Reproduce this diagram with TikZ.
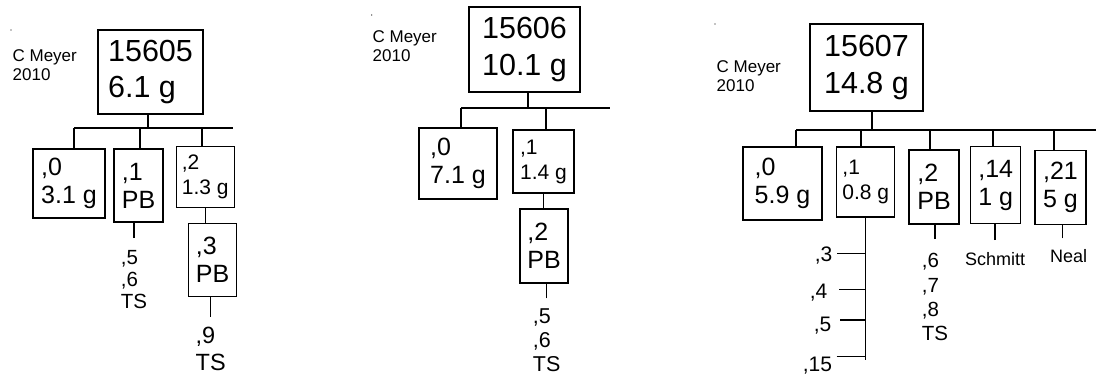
\documentclass[tikz,border=0pt]{standalone}
\usepackage{fontspec}
\setmainfont{Liberation Sans}
\usetikzlibrary{positioning}
\tikzset{
    rootbox/.style ={
        draw,
        align=left,
        inner sep=0pt,
        font=\fontsize{30.5}{36.5}\selectfont
    },
    kidbox/.style ={
        draw,
        align=left,
        inner sep=0pt,
        font=\fontsize{25}{28}\selectfont
    },
    kidsmall/.style ={
        draw,
        align=left,
        inner sep=0pt,
        font=\fontsize{21}{25}\selectfont
    },
    boxsize/.style 2 args ={
        minimum width=#1pt,
        minimum height=#2pt
    },
    meyer/.style ={
        anchor=north west,
        align=left,
        inner sep=0pt,
        font=\fontsize{17}{19}\selectfont
    },
    leaf/.style 2 args ={
        align=left,
        inner sep=0pt,
        font=\fontsize{#1}{#2}\selectfont
    }
}

\begin{document}
\begin{tikzpicture}[x=1pt, y=-1pt, line width=1.3pt]
    \useasboundingbox (0,0) rectangle (1096,375);

    % 15605
    \fill (11,30) circle (0.7);
    \node[meyer] (m1) at (12,49) {C Meyer\\2010};
    \node[rootbox, boxsize={105}{84}] (r1) at (150.5,72) {15605\\6.1 g};
    \node[kidbox, boxsize={72}{69}] (a0) at (69,183.5) {,0\\3.1 g};
    \node[kidbox, boxsize={49}{73}] (a1) at (138.5,185.5) {,1\\PB};
    \node[kidsmall, boxsize={58}{61}] (a2) at (205.2,177.2) {,2\\1.3 g};
    \node[kidbox, boxsize={48}{73}] (a3) at (212.5,260) {,3\\PB};
    \coordinate (j10) at (148,128);
    \coordinate (j11) at (74,128);
    \coordinate (j12) at (140,128);
    \coordinate (j13) at (202,128);
    \coordinate (e1) at (233,128);
    \coordinate (k1) at (134,238);
    \coordinate (k2) at (210.7,316.7);
    \node[leaf={20.5}{22}, below=12pt of k1] (l1) {,5\\,6\\TS};
    \node[leaf={23.5}{27}, below=10pt of k2] (l2) {,9\\TS};
    \draw (j11) -- (e1);
    \draw (j10) -- (j10 |- r1.south);
    \foreach \j/\n in {j11/a0, j12/a1, j13/a2}
        \draw (\j) -- (\j |- \n.north);
    \draw (a2.south) -- (a2.south |- a3.north);
    \draw (k1) -- (k1 |- a1.south);
    \draw (k2) -- (k2 |- a3.south);

    % 15606
    \fill (371.7,15) circle (0.7);
    \node[meyer] (m2) at (372,30) {C Meyer\\2010};
    \node[rootbox, boxsize={111}{85}] (r2) at (524.5,49.5) {15606\\10.1 g};
    \node[kidbox, boxsize={78}{71}] (c0) at (458,163.5) {,0\\7.1 g};
    \node[kidsmall, boxsize={61}{63}] (c1) at (543.5,161.5) {,1\\1.4 g};
    \node[kidbox, boxsize={48}{74}] (c2) at (544,246) {,2\\PB};
    \coordinate (j20) at (528,108);
    \coordinate (j21) at (461,108);
    \coordinate (j22) at (546,108);
    \coordinate (e2) at (610,108);
    \coordinate (k3) at (546.7,298.3);
    \node[leaf={21.5}{24}, below=10pt of k3] (l3) {,5\\,6\\TS};
    \draw (j21) -- (e2);
    \draw (j20) -- (j20 |- r2.south);
    \foreach \j/\n in {j21/c0, j22/c1}
        \draw (\j) -- (\j |- \n.north);
    \draw (c1.south) -- (c1.south |- c2.north);
    \draw (k3) -- (k3 |- c2.south);

    % 15607
    \fill (715,24) circle (0.7);
    \node[meyer] (m3) at (716,60) {C Meyer\\2010};
    \node[rootbox, boxsize={113}{87}] (r3) at (866.5,67.5) {15607\\14.8 g};
    \node[kidbox, boxsize={79}{73}] (b0) at (782.5,183.5) {,0\\5.9 g};
    \node[kidsmall, boxsize={58}{70}] (b1) at (865.8,182) {,1\\0.8 g};
    \node[kidbox, boxsize={50}{74}] (b2) at (934,187) {,2\\PB};
    \node[kidbox, boxsize={50}{77}] (b3) at (995.7,185.3) {,14\\1 g};
    \node[kidbox, boxsize={51}{74}] (b4) at (1060.5,187.2) {,21\\5 g};
    \coordinate (j30) at (872,130);
    \coordinate (j31) at (796,130);
    \coordinate (j32) at (861,130);
    \coordinate (j33) at (930,130);
    \coordinate (j34) at (993,130);
    \coordinate (j35) at (1054,130);
    \coordinate (e3) at (1097,130);
    \draw (j31) -- (e3);
    \draw (j30) -- (j30 |- r3.south);
    \foreach \j/\n in {j31/b0, j32/b1, j33/b2, j34/b3, j35/b4}
        \draw (\j) -- (\j |- \n.north);

    \coordinate (s1) at (866,360);
    \draw (b1.south) -- (b1.south |- s1);
    \coordinate (t1) at (837.3,253.3);
    \coordinate (t2) at (839,289.3);
    \coordinate (t3) at (840,320);
    \coordinate (t4) at (836.7,356.7);
    \foreach \t in {t1, t2, t3, t4}
        \draw (\t) -- (\t -| b1.south);
    \node[leaf={21}{25}, anchor=base east] (n1) at (833,261.7) {,3};
    \node[leaf={21}{25}, anchor=base east] (n2) at (828,298) {,4};
    \node[leaf={21}{25}, anchor=base east] (n3) at (832,331.7) {,5};
    \node[leaf={21}{25}, anchor=base east] (n4) at (832.7,371.7) {,15};

    \coordinate (k4) at (935,239);
    \coordinate (k5) at (995,240);
    \coordinate (k6) at (1062.7,238.3);
    \node[leaf={20.5}{24.3}, below=14pt of k4] (l4) {,6\\,7\\,8\\TS};
    \node[leaf={18}{20}, below=11.7pt of k5] (l5) {Schmitt};
    \node[leaf={18}{20}, below=11pt of k6, xshift=6pt] (l6) {Neal};
    \draw (k4) -- (k4 |- b2.south);
    \draw (k5) -- (k5 |- b3.south);
    \draw (k6) -- (k6 |- b4.south);
\end{tikzpicture}
\end{document}
